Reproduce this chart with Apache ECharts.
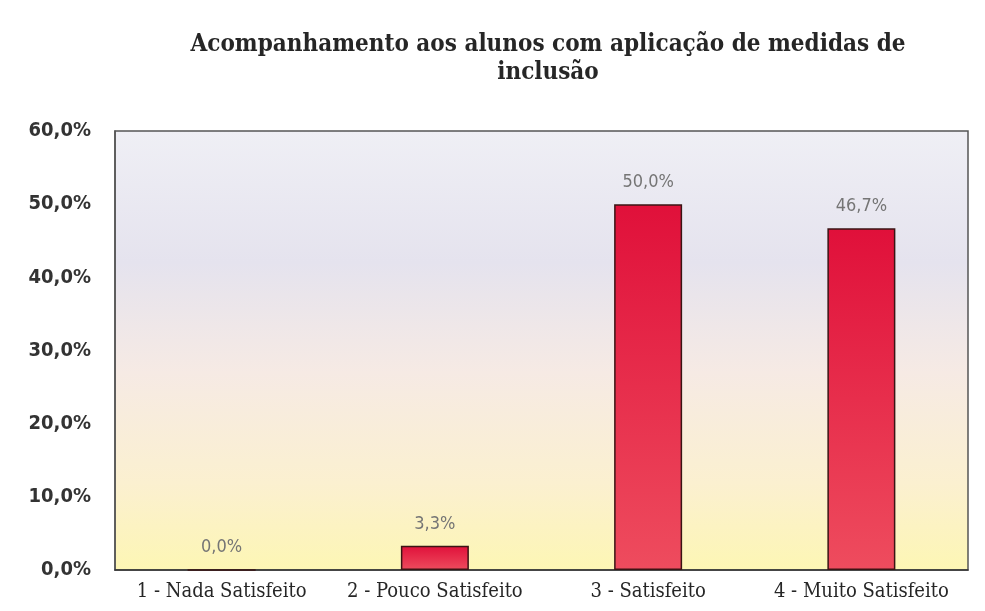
<!DOCTYPE html>
<html lang="pt">
<head>
    <meta charset="UTF-8">
    <script type="text/javascript" src="https://cdn.jsdelivr.net/npm/echarts@6/dist/echarts.min.js"></script>
    <style>
        html, body { margin: 0; padding: 0; background: #ffffff; }
        #chart { width: 985px; height: 611px; }
    </style>
</head>
<body>
    <div id="chart"></div>
</body>
<script>
    // categorias e valores (%)
    var categories = ["1 - Nada Satisfeito", "2 - Pouco Satisfeito", "3 - Satisfeito", "4 - Muito Satisfeito"];
    var percentValues = [0.0, 3.3, 50.0, 46.7];
    var titleText = "Acompanhamento aos alunos com aplicação de medidas de\ninclusão";

    var chart = echarts.init(document.getElementById("chart"));

    function fmtPct(v) {
        return v.toFixed(1).replace(".", ",") + "%";
    }

    var option = {
        animation: false,
        title: {
            text: titleText,
            left: 543,
            textAlign: "center",
            top: 26,
            textStyle: {
                fontFamily: "DejaVu Serif Condensed",
                fontWeight: "bold",
                fontSize: 24,
                lineHeight: 28,
                color: "#262626"
            }
        },
        grid: {
            left: 115,
            right: 17,
            top: 131,
            bottom: 41,
            show: true,
            borderColor: "#555",
            borderWidth: 1.5,
            backgroundColor: {
                type: "linear", x: 0, y: 0, x2: 0, y2: 1,
                colorStops: [
                    { offset: 0, color: "#efeff5" },
                    { offset: 0.3, color: "#e5e3ee" },
                    { offset: 0.55, color: "#f6eae4" },
                    { offset: 0.8, color: "#fbf0d0" },
                    { offset: 1, color: "#fdf6b4" }
                ]
            }
        },
        xAxis: {
            type: "category",
            data: categories,
            axisTick: { show: false },
            axisLine: { lineStyle: { color: "#333", width: 1.5 } },
            axisLabel: {
                interval: 0,
                hideOverlap: false,
                fontFamily: "DejaVu Serif Condensed",
                fontSize: 20,
                color: "#262626",
                margin: 12
            }
        },
        yAxis: {
            type: "value",
            min: 0,
            max: 60,
            interval: 10,
            splitLine: { show: false },
            axisLine: { show: true, lineStyle: { color: "#555", width: 1.5 } },
            axisTick: { show: false },
            axisLabel: {
                formatter: function (v) { return fmtPct(v); },
                fontFamily: "DejaVu Sans Condensed",
                fontWeight: "bold",
                fontSize: 20,
                color: "#333",
                margin: 24
            }
        },
        series: [{
            type: "bar",
            data: percentValues,
            barWidth: 68,
            itemStyle: {
                borderColor: "#3a1414",
                borderWidth: 1.5,
                color: {
                    type: "linear", x: 0, y: 0, x2: 0, y2: 1,
                    colorStops: [
                        { offset: 0, color: "#e0103a" },
                        { offset: 1, color: "#ee4c5e" }
                    ]
                }
            },
            label: {
                show: true,
                position: "top",
                distance: 13,
                formatter: function (p) { return fmtPct(p.value); },
                fontFamily: "DejaVu Sans Condensed",
                fontSize: 18,
                color: "#757575"
            }
        }]
    };

    chart.setOption(option);
</script>
</html>
